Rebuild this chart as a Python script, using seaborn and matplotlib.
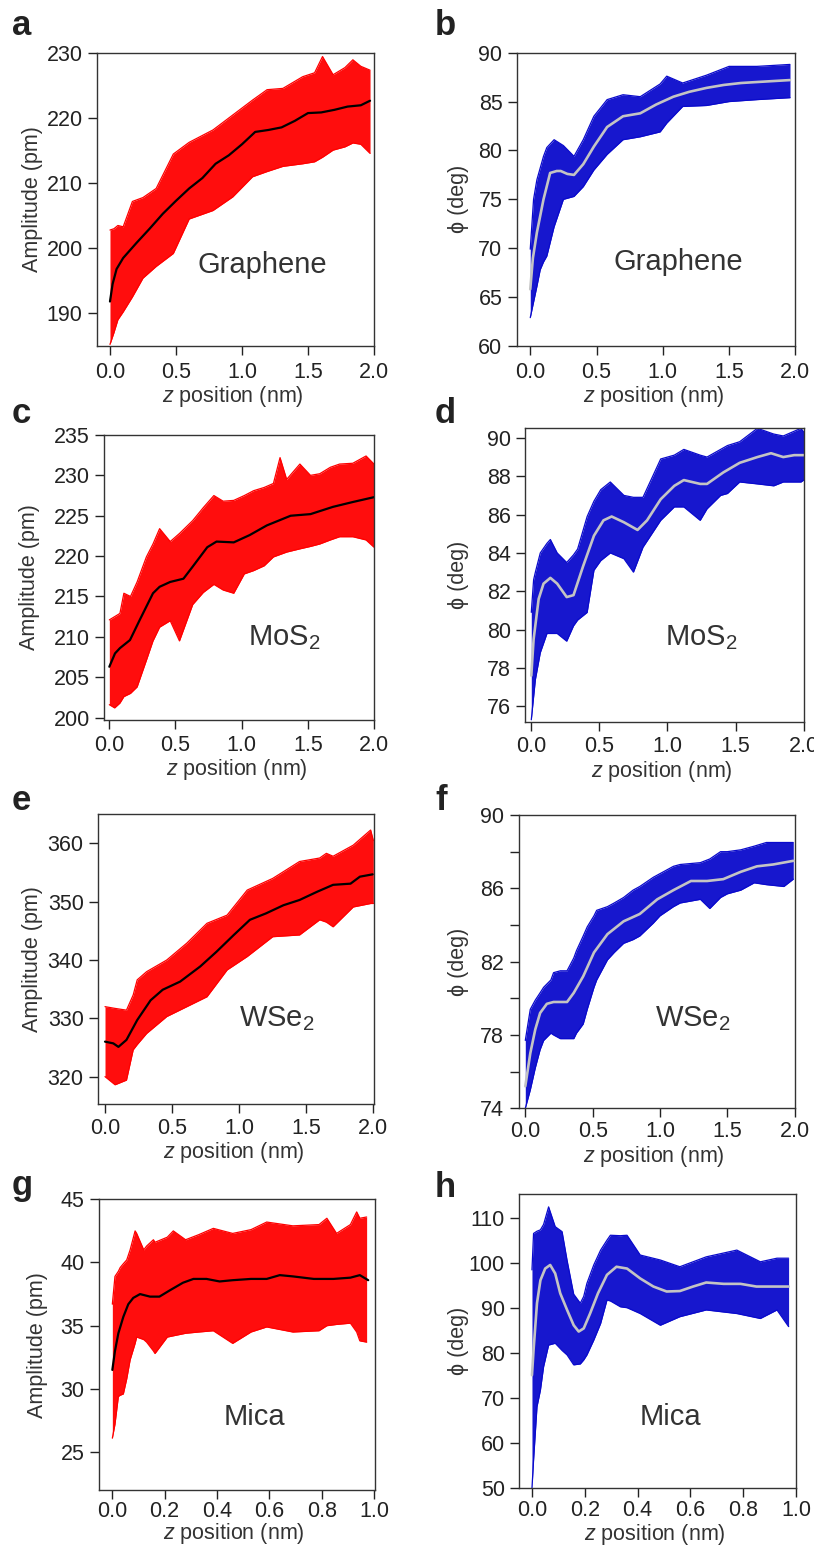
import matplotlib
matplotlib.use("Agg")
import matplotlib.pyplot as plt
import seaborn as sns
from matplotlib.ticker import FixedLocator, FormatStrFormatter

# ---------------- data ----------------
# panel a : Graphene amplitude
A_Z_MEAN = [0, 0.02, 0.05, 0.1, 0.2, 0.3, 0.4, 0.5, 0.6, 0.7, 0.8, 0.9, 1.0, 1.1, 1.2, 1.3, 1.4, 1.5, 1.6, 1.7, 1.8, 1.9, 1.97]
A_MEAN = [191.8, 194.5, 196.8, 198.5, 200.8, 203.0, 205.3, 207.3, 209.2, 210.8, 213.0, 214.3, 216.0, 217.9, 218.2, 218.6, 219.6, 220.8, 220.9, 221.3, 221.8, 222.0, 222.7]
A_Z_ENV = [0, 0.03, 0.06, 0.1, 0.17, 0.25, 0.35, 0.48, 0.6, 0.78, 0.93, 1.08, 1.19, 1.31, 1.46, 1.55, 1.61, 1.69, 1.78, 1.84, 1.9, 1.97]
A_UPPER = [202.8, 203.0, 203.5, 203.3, 207.2, 207.8, 209.2, 214.5, 216.3, 218.2, 220.5, 222.8, 224.4, 224.6, 226.4, 227.0, 229.5, 226.7, 227.8, 229.0, 228.0, 227.4]
A_LOWER = [185.2, 187.0, 189.0, 190.2, 192.5, 195.4, 197.2, 199.2, 204.5, 205.8, 207.9, 211.0, 211.8, 212.6, 213.0, 213.3, 214.0, 215.1, 215.6, 216.2, 216.0, 214.6]

# panel b : Graphene phase
B_Z_MEAN = [0, 0.02, 0.05, 0.1, 0.15, 0.2, 0.23, 0.28, 0.33, 0.4, 0.48, 0.58, 0.7, 0.83, 0.95, 1.08, 1.2, 1.33, 1.46, 1.59, 1.71, 1.96]
B_MEAN = [65.8, 69.0, 71.6, 75.0, 77.7, 77.9, 77.9, 77.6, 77.5, 78.6, 80.4, 82.4, 83.5, 83.8, 84.7, 85.5, 86.0, 86.4, 86.7, 86.9, 87.0, 87.2]
B_Z_ENV = [0, 0.025, 0.05, 0.075, 0.1, 0.125, 0.18, 0.25, 0.33, 0.4, 0.48, 0.58, 0.7, 0.83, 0.98, 1.03, 1.15, 1.33, 1.5, 1.71, 1.96]
B_UPPER = [69.9, 75.0, 77.0, 78.2, 79.4, 80.3, 81.1, 80.5, 79.4, 81.1, 83.5, 85.2, 85.7, 85.5, 86.8, 87.6, 86.9, 87.7, 88.6, 88.6, 88.8]
B_LOWER = [62.9, 64.5, 66.1, 67.8, 68.6, 69.2, 72.2, 75.0, 75.3, 76.3, 78.0, 79.6, 81.1, 81.4, 81.9, 82.8, 84.5, 84.6, 85.0, 85.2, 85.4]

# panel c : MoS2 amplitude
C_Z_MEAN = [0, 0.043, 0.08, 0.156, 0.23, 0.33, 0.38, 0.46, 0.56, 0.63, 0.74, 0.81, 0.94, 1.06, 1.19, 1.37, 1.52, 1.69, 1.84, 2.0]
C_MEAN = [206.3, 207.95, 208.6, 209.6, 212.1, 215.4, 216.2, 216.8, 217.2, 218.7, 221.1, 221.8, 221.7, 222.6, 223.8, 225.0, 225.2, 226.1, 226.7, 227.3]
C_Z_ENV = [0, 0.04, 0.08, 0.11, 0.16, 0.21, 0.28, 0.33, 0.38, 0.46, 0.53, 0.63, 0.71, 0.79, 0.86, 0.94, 1.02, 1.09, 1.17, 1.24, 1.29, 1.34, 1.44, 1.52, 1.59, 1.67, 1.74, 1.84, 1.94, 2.0]
C_UPPER = [212.1, 212.5, 212.9, 215.4, 215.0, 216.8, 219.9, 221.5, 223.4, 221.8, 222.8, 224.4, 226.0, 227.5, 226.8, 226.9, 227.5, 228.1, 228.5, 229.0, 232.2, 229.5, 231.4, 230.0, 230.2, 231.0, 231.4, 231.5, 232.4, 231.4]
C_LOWER = [201.6, 201.2, 201.8, 202.6, 203.0, 203.8, 207.1, 209.5, 211.2, 212.0, 209.5, 214.0, 215.5, 216.5, 215.8, 215.4, 217.8, 218.2, 218.8, 219.9, 220.2, 220.5, 220.9, 221.2, 221.5, 222.0, 222.4, 222.4, 222.0, 221.1]

# panel d : MoS2 phase
D_Z_MEAN = [0, 0.017, 0.054, 0.09, 0.14, 0.19, 0.26, 0.31, 0.38, 0.46, 0.53, 0.59, 0.68, 0.78, 0.85, 0.95, 1.05, 1.12, 1.24, 1.29, 1.41, 1.53, 1.66, 1.76, 1.85, 1.93, 2.0]
D_MEAN = [77.6, 79.5, 81.6, 82.4, 82.7, 82.4, 81.7, 81.8, 83.3, 84.9, 85.7, 85.9, 85.6, 85.2, 85.7, 86.8, 87.5, 87.8, 87.6, 87.6, 88.2, 88.7, 89.0, 89.2, 89.0, 89.1, 89.1]
D_Z_ENV = [0, 0.017, 0.03, 0.066, 0.115, 0.14, 0.19, 0.26, 0.31, 0.34, 0.41, 0.46, 0.51, 0.58, 0.68, 0.75, 0.82, 0.95, 1.05, 1.12, 1.24, 1.29, 1.39, 1.44, 1.53, 1.66, 1.78, 1.85, 1.98, 2.0]
D_UPPER = [80.9, 82.6, 83.0, 84.0, 84.5, 84.7, 84.0, 83.5, 83.9, 84.2, 85.9, 86.7, 87.3, 87.7, 87.0, 86.9, 86.9, 88.9, 89.1, 89.4, 89.1, 89.0, 89.4, 89.6, 89.8, 90.5, 90.2, 90.1, 90.5, 90.3]
D_LOWER = [75.3, 76.5, 77.4, 78.8, 79.8, 79.8, 79.8, 79.4, 80.2, 80.5, 80.9, 83.1, 83.6, 84.0, 83.7, 83.0, 84.3, 85.7, 86.4, 86.4, 85.7, 86.3, 87.0, 87.1, 87.7, 87.6, 87.5, 87.7, 87.7, 87.8]

# panel e : WSe2 amplitude
E_Z_MEAN = [0, 0.062, 0.1, 0.16, 0.24, 0.34, 0.43, 0.56, 0.71, 0.83, 0.96, 1.08, 1.2, 1.33, 1.45, 1.58, 1.7, 1.83, 1.9, 1.995]
E_MEAN = [326.0, 325.7, 325.1, 326.3, 329.7, 333.1, 334.9, 336.3, 338.9, 341.4, 344.3, 346.9, 348.0, 349.4, 350.3, 351.7, 352.9, 353.1, 354.3, 354.7]
E_Z_ENV = [0, 0.075, 0.16, 0.21, 0.24, 0.31, 0.46, 0.61, 0.76, 0.91, 1.06, 1.25, 1.45, 1.6, 1.65, 1.7, 1.85, 1.98, 2.0]
E_UPPER = [332.0, 331.7, 331.4, 334.0, 336.6, 338.0, 340.0, 342.9, 346.3, 347.7, 352.0, 354.0, 356.9, 357.5, 358.3, 357.8, 359.7, 362.3, 360.5]
E_LOWER = [320.0, 318.6, 319.4, 324.6, 325.5, 327.4, 330.3, 332.0, 333.7, 338.3, 340.6, 344.0, 344.3, 346.9, 346.5, 345.7, 349.1, 349.7, 349.7]

# panel f : WSe2 phase
F_Z_MEAN = [0, 0.037, 0.074, 0.11, 0.16, 0.21, 0.31, 0.36, 0.43, 0.51, 0.61, 0.73, 0.85, 0.98, 1.1, 1.23, 1.35, 1.47, 1.6, 1.72, 1.84, 1.99]
F_MEAN = [75.2, 77.0, 78.3, 79.2, 79.7, 79.8, 79.8, 80.3, 81.2, 82.5, 83.5, 84.2, 84.6, 85.4, 85.9, 86.4, 86.4, 86.5, 86.9, 87.2, 87.3, 87.5]
F_Z_ENV = [0, 0.037, 0.074, 0.11, 0.136, 0.19, 0.21, 0.26, 0.31, 0.36, 0.38, 0.43, 0.46, 0.51, 0.53, 0.61, 0.66, 0.73, 0.8, 0.85, 0.95, 1.0, 1.1, 1.15, 1.3, 1.37, 1.45, 1.5, 1.6, 1.7, 1.79, 1.92, 1.99]
F_UPPER = [77.7, 79.4, 79.9, 80.3, 80.6, 81.0, 81.4, 81.5, 81.5, 82.2, 82.6, 83.4, 83.9, 84.5, 84.8, 85.0, 85.2, 85.5, 85.9, 86.1, 86.6, 86.8, 87.2, 87.3, 87.4, 87.6, 88.0, 88.0, 88.1, 88.3, 88.5, 88.5, 88.5]
F_LOWER = [74.0, 75.0, 76.2, 77.2, 77.7, 78.1, 78.0, 77.8, 77.8, 77.8, 78.1, 78.6, 79.4, 80.6, 81.0, 82.1, 82.5, 83.0, 83.2, 83.4, 84.1, 84.5, 85.0, 85.2, 85.4, 84.9, 85.5, 85.7, 85.9, 86.3, 86.2, 86.1, 86.5]

# panel g : Mica amplitude
G_Z_MEAN = [0, 0.01, 0.023, 0.042, 0.061, 0.08, 0.106, 0.144, 0.18, 0.22, 0.27, 0.31, 0.36, 0.41, 0.46, 0.53, 0.59, 0.64, 0.69, 0.77, 0.845, 0.91, 0.946, 0.978]
G_MEAN = [31.5, 33.0, 34.4, 35.7, 36.7, 37.2, 37.5, 37.3, 37.3, 37.8, 38.4, 38.7, 38.7, 38.5, 38.6, 38.7, 38.7, 39.0, 38.9, 38.7, 38.7, 38.8, 39.0, 38.6]
G_Z_ENV = [0, 0.01, 0.023, 0.03, 0.042, 0.055, 0.068, 0.087, 0.093, 0.12, 0.131, 0.157, 0.163, 0.21, 0.233, 0.28, 0.33, 0.386, 0.46, 0.53, 0.59, 0.69, 0.79, 0.82, 0.857, 0.91, 0.934, 0.946, 0.972]
G_UPPER = [36.7, 38.9, 39.3, 39.6, 39.9, 40.2, 41.0, 42.5, 42.3, 41.0, 41.3, 41.8, 41.6, 42.0, 42.5, 41.8, 42.2, 42.7, 42.3, 42.6, 43.2, 42.9, 43.0, 43.5, 42.3, 43.0, 44.0, 43.5, 43.6]
G_LOWER = [26.1, 27.2, 29.4, 29.5, 29.6, 30.8, 32.3, 33.6, 34.1, 33.9, 33.7, 33.0, 32.8, 34.1, 34.2, 34.4, 34.5, 34.6, 33.6, 34.5, 34.9, 34.5, 34.6, 35.0, 35.1, 35.2, 34.5, 33.8, 33.7]

# panel h : Mica phase
H_Z_MEAN = [0, 0.006, 0.019, 0.032, 0.05, 0.069, 0.088, 0.107, 0.133, 0.158, 0.177, 0.196, 0.22, 0.25, 0.284, 0.32, 0.36, 0.41, 0.46, 0.51, 0.56, 0.61, 0.66, 0.726, 0.79, 0.85, 0.915, 0.972]
H_MEAN = [75.0, 80.6, 91.0, 96.1, 98.7, 99.5, 97.6, 93.2, 89.5, 86.1, 84.7, 85.4, 88.7, 93.2, 97.3, 99.1, 98.7, 96.5, 94.7, 93.6, 93.7, 94.7, 95.6, 95.3, 95.3, 94.7, 94.7, 94.7]
H_Z_ENV = [0, 0.006, 0.019, 0.032, 0.044, 0.063, 0.088, 0.114, 0.133, 0.158, 0.183, 0.196, 0.208, 0.234, 0.26, 0.284, 0.297, 0.335, 0.36, 0.41, 0.486, 0.56, 0.66, 0.776, 0.865, 0.928, 0.972]
H_UPPER = [98.4, 106.5, 107.0, 107.3, 108.5, 112.4, 108.0, 106.9, 100.5, 93.0, 91.0, 92.5, 95.4, 99.5, 102.8, 105.0, 106.1, 106.0, 106.1, 101.7, 100.6, 99.1, 101.3, 102.8, 100.2, 101.0, 101.0]
H_LOWER = [49.9, 56.1, 68.0, 71.7, 76.9, 81.7, 82.1, 80.5, 79.5, 77.3, 77.5, 78.4, 79.5, 82.8, 86.5, 91.7, 91.5, 90.2, 90.0, 88.7, 86.1, 88.0, 89.5, 88.7, 87.6, 89.5, 85.8]

SAMPLES = ["Graphene", "Graphene", "MoS$_\\mathregular{2}$", "MoS$_\\mathregular{2}$",
           "WSe$_\\mathregular{2}$", "WSe$_\\mathregular{2}$", "Mica", "Mica"]
LETTERS = ["a", "b", "c", "d", "e", "f", "g", "h"]
AMP_LABEL = "Amplitude (pm)"
PHASE_LABEL = "ϕ (deg)"
X_LABEL = "$\\mathit{z}$ position (nm)"
X_TICKS_2 = [0.0, 0.5, 1.0, 1.5, 2.0]
X_TICKS_1 = [0.0, 0.2, 0.4, 0.6, 0.8, 1.0]
Y_TICKS = [
    [190, 200, 210, 220, 230],
    [60, 65, 70, 75, 80, 85, 90],
    [200, 205, 210, 215, 220, 225, 230, 235],
    [76, 78, 80, 82, 84, 86, 88, 90],
    [320, 330, 340, 350, 360],
    [74, 78, 82, 86, 90],
    [25, 30, 35, 40, 45],
    [50, 60, 70, 80, 90, 100, 110],
]
F_MINOR = [76, 80, 84, 88]

# ---------------- style ----------------
sns.set_style("ticks")
plt.rcParams['font.family'] = ['Liberation Sans', 'DejaVu Sans']
plt.rcParams['mathtext.fontset'] = 'custom'
plt.rcParams['mathtext.rm'] = 'Liberation Sans'
plt.rcParams['mathtext.it'] = 'Liberation Sans:italic'

W, H = 814, 1551
fig = plt.figure(figsize=(W / 100, H / 100), dpi=100)

RED = "#FF0000"
BLUE = "#0A0ACC"

# layout in pixels: left, right, top, bottom
boxes = [
    (97.3, 374, 53.3, 345.7), (517, 795.3, 52.7, 346),
    (104.3, 374, 435, 720), (525.3, 803.7, 428.3, 721.7),
    (98.3, 374, 814.3, 1104), (518.7, 795.3, 815, 1108.3),
    (99, 375, 1199.3, 1490), (519.3, 796, 1194.3, 1487.7),
]
xlims = [(-0.096, 2.0), (-0.1, 2.0), (-0.038, 2.0), (-0.044, 2.0),
         (-0.05, 2.005), (-0.049, 2.005), (-0.051, 1.004), (-0.048, 1.0)]
ylims = [(185, 230), (60, 90), (199.7, 235), (75.2, 90.5),
         (315.3, 365), (74, 90), (22, 45), (50, 115.2)]
ylabel_x = [-0.195, -0.174, -0.238, -0.203, -0.2, -0.181, -0.184, -0.183]
xtick_pad = [5, 5, 4, 3.5, 3.5, 3, 1.5, 2.5]
xlabel_off = [38, 38, 37, 37, 36, 36, 31, 34]
text_pos = [(0.597, 0.249), (0.578, 0.259), (0.666, 0.263), (0.631, 0.261),
            (0.647, 0.269), (0.629, 0.281), (0.563, 0.224), (0.546, 0.214)]
letter_pos = [(12, 35), (435, 35), (12, 423), (435, 423),
              (12, 810), (435, 810), (12, 1195), (435, 1197)]

panels = [
    (A_Z_MEAN, A_MEAN, A_Z_ENV, A_UPPER, A_LOWER),
    (B_Z_MEAN, B_MEAN, B_Z_ENV, B_UPPER, B_LOWER),
    (C_Z_MEAN, C_MEAN, C_Z_ENV, C_UPPER, C_LOWER),
    (D_Z_MEAN, D_MEAN, D_Z_ENV, D_UPPER, D_LOWER),
    (E_Z_MEAN, E_MEAN, E_Z_ENV, E_UPPER, E_LOWER),
    (F_Z_MEAN, F_MEAN, F_Z_ENV, F_UPPER, F_LOWER),
    (G_Z_MEAN, G_MEAN, G_Z_ENV, G_UPPER, G_LOWER),
    (H_Z_MEAN, H_MEAN, H_Z_ENV, H_UPPER, H_LOWER),
]

for i, (zm, mean, ze, up, lo) in enumerate(panels):
    l, r, t, b = boxes[i]
    ax = fig.add_axes([l / W, 1 - b / H, (r - l) / W, (b - t) / H])
    is_amp = (i % 2 == 0)
    col = RED if is_amp else BLUE
    mcol = "black" if is_amp else "#C4C4C4"
    mlw = 1.6 if is_amp else 1.9

    ax.fill_between(ze, lo, up, color=col, alpha=0.95, lw=0)
    sns.lineplot(x=ze, y=up, ax=ax, color=col, lw=0.9, sort=False)
    sns.lineplot(x=ze, y=lo, ax=ax, color=col, lw=0.9, sort=False)
    sns.lineplot(x=zm, y=mean, ax=ax, color=mcol, lw=mlw, sort=False)

    ax.set_xlim(*xlims[i])
    ax.set_ylim(*ylims[i])
    ax.xaxis.set_major_locator(FixedLocator(X_TICKS_1 if i >= 6 else X_TICKS_2))
    ax.xaxis.set_major_formatter(FormatStrFormatter("%.1f"))
    ax.yaxis.set_major_locator(FixedLocator(Y_TICKS[i]))
    ax.yaxis.set_major_formatter(FormatStrFormatter("%d"))
    if i == 5:
        ax.yaxis.set_minor_locator(FixedLocator(F_MINOR))
        ax.tick_params(axis='y', which='minor', length=6.5, width=1.0,
                       color="#222222", direction='out', left=True)
    else:
        ax.minorticks_off()

    ax.tick_params(axis='both', which='major', direction='out', length=6.5,
                   width=1.0, labelsize=15.5, colors="#222222",
                   top=False, right=False)
    ax.tick_params(axis='x', pad=xtick_pad[i])
    ax.tick_params(axis='y', pad=4)
    for s in ax.spines.values():
        s.set_visible(True)
        s.set_linewidth(1.0)
        s.set_color("#333333")

    ax.set_xlabel(X_LABEL, fontsize=15.5, color="#333333")
    ax.set_ylabel(AMP_LABEL if is_amp else PHASE_LABEL, fontsize=15.5,
                  color="#333333")
    ax.xaxis.set_label_coords(0.49, -xlabel_off[i] / (b - t))
    ax.yaxis.set_label_coords(ylabel_x[i], 0.5)

    tx, ty = text_pos[i]
    ax.text(tx, ty, SAMPLES[i], transform=ax.transAxes, ha='center',
            va='baseline', fontsize=21, color="#333333")

    lx, ly = letter_pos[i]
    fig.text(lx / W, 1 - ly / H, LETTERS[i], fontsize=25, fontweight='bold',
             color="#222222", ha='left', va='baseline')

fig.savefig("out.png", dpi=100)
